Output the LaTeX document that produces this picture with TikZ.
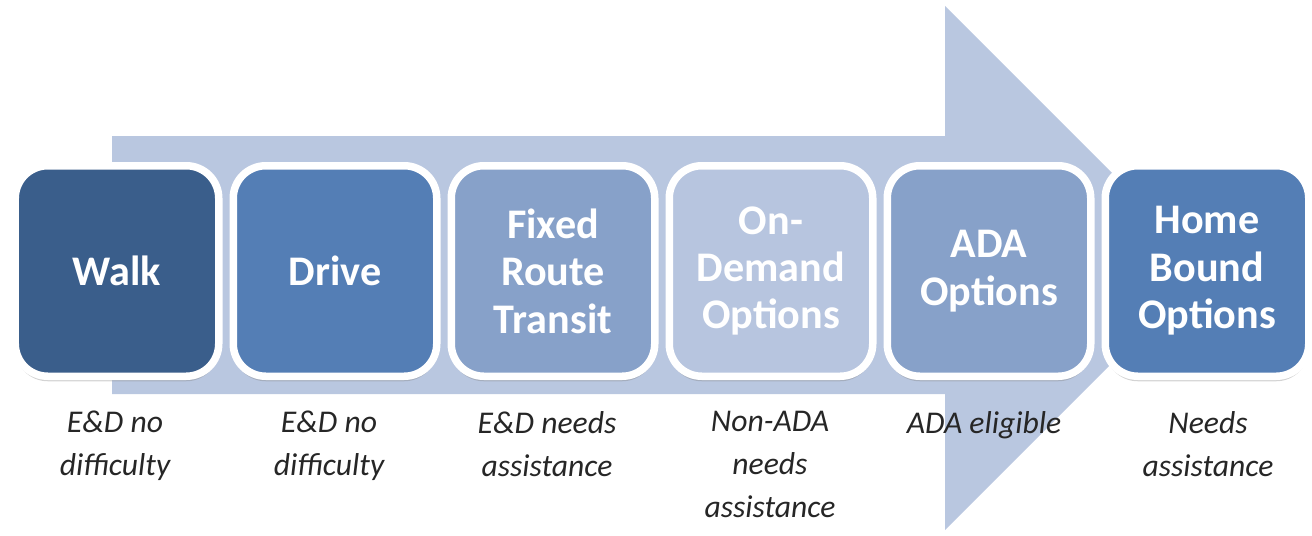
\documentclass[tikz,border=0pt]{standalone}
\usepackage{fontspec}
\setmainfont{Carlito}
\usetikzlibrary{shadows}

\definecolor{arrowblue}{HTML}{B9C7E0}
\definecolor{blueA}{HTML}{3A5E8B}
\definecolor{blueB}{HTML}{547EB5}
\definecolor{blueC}{HTML}{87A1C9}
\definecolor{blueD}{HTML}{B7C5DF}
\definecolor{captiongray}{HTML}{262626}

\begin{document}
\begin{tikzpicture}

% definitions
\tikzstyle{stage} = [rectangle, rounded corners=0.65cm, minimum width=4.07cm, minimum height=4.21cm, draw=white, line width=0.15cm, text=white, align=center, font=\fontsize{24}{27}\selectfont\bfseries, drop shadow={opacity=0.35, shadow xshift=0cm, shadow yshift=-0.1cm}]

\tikzstyle{stageA} = [stage, fill=blueA]
\tikzstyle{stageB} = [stage, fill=blueB]
\tikzstyle{stageC} = [stage, fill=blueC]
\tikzstyle{stageD} = [stage, fill=blueD]

\tikzstyle{caption} = [anchor=north, inner sep=0, align=center, text=captiongray, font=\fontsize{18}{24.5}\selectfont\itshape]

\useasboundingbox (0,0) rectangle (26.24,10.7);


% big arrow
\fill [arrowblue] (2.24,7.98) -- (18.9,7.98) -- (18.9,10.58) -- (24.14,5.34)
  -- (18.9,0.1) -- (18.9,2.82) -- (2.24,2.82) -- cycle;


% stages
\begin{scope}[node distance=4.36cm]
\node (aa) [stageA] at (2.34,5.28) {Walk};
\node (ab) [stageB, right of=aa] {Drive};
\node (ac) [stageC, right of=ab] {Fixed\\Route\\Transit};
\node (ad) [stageD, right of=ac] {On-\\Demand\\Options};
\node (ae) [stageC, right of=ad] {ADA\\Options};
\node (af) [stageB, right of=ae] {Home\\Bound\\Options};
\end{scope}


% captions
\node (ba) [caption] at (2.3,2.48) {E\&D no\\difficulty};
\node (bb) [caption] at (6.58,2.48) {E\&D no\\difficulty};
\node (bc) [caption] at (10.94,2.48) {E\&D needs\\assistance};
\node (bd) [caption] at (15.4,2.48) {Non-ADA\\needs\\assistance};
\node (be) [caption] at (19.68,2.48) {ADA eligible};
\node (bf) [caption] at (24.16,2.48) {Needs\\assistance};

\end{tikzpicture}
\end{document}
